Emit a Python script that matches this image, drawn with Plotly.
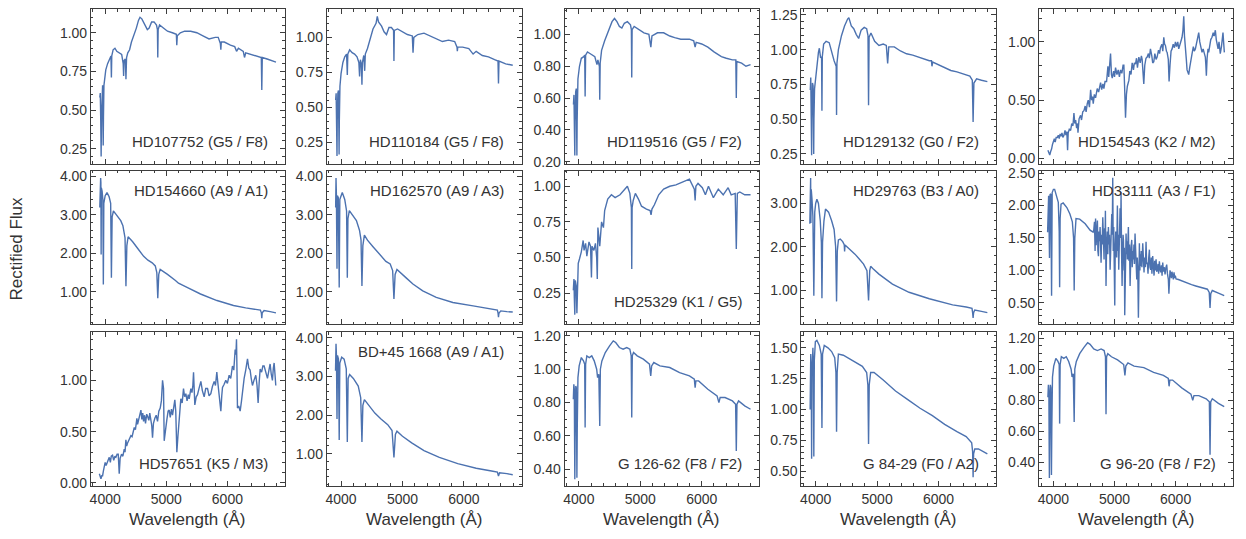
import plotly.graph_objects as go
from plotly.subplots import make_subplots

# ---------------- data ----------------
NAMES = ["HD107752 (G5 / F8)", "HD110184 (G5 / F8)", "HD119516 (G5 / F2)", "HD129132 (G0 / F2)", "HD154543 (K2 / M2)",
         "HD154660 (A9 / A1)", "HD162570 (A9 / A3)", "HD25329 (K1 / G5)", "HD29763 (B3 / A0)", "HD33111 (A3 / F1)",
         "HD57651 (K5 / M3)", "BD+45 1668 (A9 / A1)", "G 126-62 (F8 / F2)", "G 84-29 (F0 / A2)", "G 96-20 (F8 / F2)"]

S1 = [(3912,0.58),(3920,0.61),(3927,0.45),(3934,0.20),(3940,0.45),(3948,0.62),(3958,0.66),(3964,0.40),(3968,0.27),(3972,0.45),
      (3980,0.66),(3995,0.72),(4010,0.76),(4040,0.80),(4070,0.83),(4095,0.85),(4102,0.71),(4108,0.85),(4130,0.89),(4160,0.90),
      (4190,0.88),(4230,0.87),(4270,0.86),(4295,0.80),(4302,0.72),(4310,0.82),(4330,0.83),(4340,0.70),(4350,0.84),(4370,0.87),
      (4400,0.89),(4430,0.94),(4470,0.98),(4510,1.03),(4545,1.08),(4570,1.10),(4600,1.09),(4640,1.06),(4690,1.02),(4720,1.03),
      (4760,1.07),(4800,1.07),(4840,1.05),(4855,1.02),(4861,0.84),(4867,1.02),(4890,1.05),(4950,1.03),(5020,1.01),(5100,1.00),
      (5165,0.99),(5172,0.92),(5180,0.98),(5230,1.00),(5300,1.01),(5400,1.01),(5500,1.00),(5600,0.98),(5700,0.96),(5800,0.97),
      (5850,0.97),(5885,0.93),(5893,0.89),(5900,0.94),(5950,0.94),(6050,0.92),(6120,0.91),(6150,0.88),(6180,0.90),(6260,0.88),
      (6280,0.84),(6300,0.87),(6400,0.86),(6500,0.85),(6555,0.84),(6563,0.63),(6571,0.84),(6650,0.83),(6720,0.82),(6795,0.81)]

S2 = [(3912,0.55),(3920,0.60),(3928,0.35),(3934,0.15),(3938,0.40),(3948,0.60),(3958,0.62),(3964,0.35),(3968,0.16),(3972,0.40),
      (3982,0.65),(4000,0.74),(4030,0.82),(4060,0.86),(4090,0.88),(4102,0.73),(4110,0.88),(4140,0.91),(4180,0.89),(4220,0.88),
      (4260,0.86),(4290,0.82),(4302,0.72),(4315,0.84),(4332,0.80),(4340,0.66),(4348,0.82),(4370,0.87),(4385,0.76),(4395,0.88),
      (4430,0.92),(4480,1.00),(4520,1.06),(4570,1.10),(4590,1.15),(4610,1.11),(4660,1.08),(4700,1.04),(4740,1.02),(4780,1.07),
      (4820,1.07),(4855,1.05),(4861,0.83),(4867,1.05),(4920,1.06),(5000,1.04),(5080,1.02),(5160,1.01),(5172,0.89),(5185,1.00),
      (5250,1.02),(5350,1.03),(5450,1.01),(5550,0.99),(5650,0.97),(5750,0.98),(5850,0.97),(5888,0.93),(5893,0.90),(5900,0.93),
      (5980,0.93),(6080,0.92),(6150,0.88),(6200,0.90),(6300,0.87),(6400,0.86),(6500,0.84),(6555,0.83),(6563,0.67),(6571,0.83),
      (6680,0.81),(6795,0.80)]

S3 = [(3912,0.56),(3920,0.62),(3928,0.40),(3934,0.24),(3938,0.45),(3948,0.64),(3958,0.66),(3964,0.40),(3968,0.24),(3972,0.45),
      (3985,0.72),(4010,0.80),(4040,0.85),(4080,0.86),(4095,0.87),(4102,0.61),(4110,0.87),(4140,0.89),(4180,0.88),(4220,0.87),
      (4260,0.86),(4295,0.81),(4310,0.84),(4334,0.80),(4340,0.59),(4347,0.82),(4370,0.90),(4420,0.96),(4480,1.02),(4540,1.08),
      (4580,1.10),(4620,1.08),(4660,1.05),(4700,1.04),(4740,1.07),(4790,1.08),(4840,1.06),(4855,1.03),(4861,0.73),(4867,1.03),
      (4900,1.05),(4980,1.03),(5060,1.01),(5140,1.00),(5172,0.92),(5190,0.99),(5280,1.01),(5380,1.01),(5480,0.99),(5560,0.98),
      (5660,0.97),(5800,0.97),(5870,0.96),(5893,0.92),(5910,0.95),(6000,0.94),(6100,0.92),(6200,0.89),(6280,0.87),(6320,0.86),
      (6400,0.85),(6500,0.84),(6555,0.84),(6563,0.60),(6571,0.83),(6650,0.82),(6720,0.80),(6795,0.81)]

S4 = [(3912,0.71),(3920,0.80),(3928,0.50),(3934,0.24),(3938,0.50),(3948,0.76),(3958,0.74),(3964,0.45),(3968,0.25),(3972,0.50),
      (3982,0.72),(4000,0.80),(4020,0.88),(4045,0.98),(4060,1.01),(4080,0.94),(4096,0.95),(4102,0.56),(4108,0.95),(4130,1.04),
      (4170,1.06),(4220,1.05),(4260,0.98),(4300,0.92),(4334,0.88),(4340,0.53),(4346,0.90),(4370,1.00),(4420,1.10),(4470,1.17),
      (4520,1.22),(4540,1.23),(4580,1.17),(4620,1.15),(4660,1.11),(4700,1.08),(4740,1.14),(4790,1.16),(4830,1.15),(4852,1.10),
      (4861,0.60),(4870,1.09),(4900,1.12),(4960,1.06),(5030,1.03),(5100,1.04),(5150,1.03),(5172,0.90),(5190,1.02),(5280,1.02),
      (5380,0.99),(5480,0.97),(5580,0.96),(5700,0.94),(5850,0.92),(5885,0.92),(5893,0.88),(5905,0.91),(6000,0.89),(6100,0.87),
      (6200,0.85),(6300,0.84),(6420,0.82),(6510,0.81),(6550,0.78),(6563,0.48),(6576,0.76),(6620,0.79),(6700,0.78),(6795,0.77)]

S5 = [(3910,0.07),(3925,0.04),(3940,0.03),(3955,0.06),(3970,0.08),(3985,0.12),(4000,0.15),(4015,0.17),(4030,0.14),(4045,0.18),
      (4064,0.18),(4080,0.20),(4095,0.17),(4110,0.21),(4125,0.19),(4140,0.22),(4155,0.18),(4173,0.20),(4190,0.24),(4205,0.20),
      (4220,0.23),(4232,0.07),(4242,0.22),(4260,0.25),(4282,0.24),(4300,0.30),(4320,0.28),(4336,0.39),(4350,0.30),(4364,0.33),
      (4380,0.26),(4395,0.30),(4402,0.22),(4420,0.34),(4445,0.37),(4460,0.33),(4480,0.40),(4500,0.41),(4520,0.45),(4535,0.40),
      (4554,0.47),(4570,0.50),(4590,0.44),(4609,0.59),(4625,0.50),(4640,0.53),(4652,0.47),(4670,0.55),(4690,0.52),(4717,0.60),
      (4740,0.57),(4760,0.62),(4772,0.65),(4790,0.59),(4810,0.64),(4826,0.60),(4845,0.66),(4870,0.66),(4880,0.72),(4892,0.79),
      (4905,0.70),(4920,0.80),(4935,0.90),(4950,0.72),(4963,0.69),(4985,0.75),(5000,0.70),(5017,0.78),(5040,0.72),(5060,0.76),
      (5080,0.70),(5099,0.76),(5120,0.73),(5140,0.80),(5153,0.80),(5165,0.62),(5180,0.35),(5195,0.55),(5210,0.62),(5235,0.67),
      (5250,0.75),(5270,0.72),(5289,0.82),(5310,0.76),(5325,0.82),(5343,0.81),(5360,0.86),(5375,0.78),(5398,0.87),(5420,0.82),
      (5440,0.88),(5452,0.85),(5465,0.75),(5479,0.64),(5495,0.80),(5515,0.86),(5534,0.87),(5555,0.90),(5570,0.86),(5588,0.94),
      (5610,0.88),(5625,0.82),(5643,0.83),(5660,0.90),(5680,0.85),(5697,0.87),(5720,0.93),(5737,0.90),(5752,0.95),(5775,0.98),
      (5790,0.92),(5806,1.04),(5820,0.98),(5833,0.97),(5850,0.92),(5861,0.91),(5880,0.85),(5893,0.66),(5908,0.80),(5925,0.92),
      (5942,0.94),(5960,0.98),(5980,0.95),(5997,1.00),(6015,0.96),(6035,1.00),(6051,0.94),(6070,0.98),(6090,1.02),(6105,1.04),
      (6120,1.10),(6133,1.22),(6145,1.05),(6160,0.97),(6175,0.85),(6187,0.76),(6200,0.74),(6214,0.72),(6230,0.78),(6250,0.86),
      (6269,0.90),(6290,0.96),(6305,0.92),(6323,0.94),(6345,1.00),(6365,1.04),(6378,1.08),(6395,1.00),(6410,0.96),(6432,0.91),
      (6450,0.94),(6470,0.90),(6486,0.87),(6495,0.80),(6503,0.71),(6515,0.86),(6530,0.94),(6541,0.91),(6560,0.98),(6575,1.02),
      (6595,1.04),(6615,1.08),(6630,1.05),(6650,1.10),(6665,1.02),(6677,0.97),(6695,0.94),(6710,1.00),(6731,0.90),(6750,0.96),
      (6760,1.05),(6775,1.08),(6785,1.00),(6797,0.91)]

S6 = [(3912,3.19),(3920,3.70),(3926,3.96),(3930,3.85),(3934,1.97),(3938,3.70),(3950,3.62),(3962,3.40),(3970,1.19),(3978,3.30),
      (4000,3.50),(4030,3.58),(4065,3.47),(4090,3.30),(4102,1.36),(4114,2.95),(4135,3.10),(4175,3.02),(4220,2.93),(4255,2.85),
      (4290,2.72),(4325,2.40),(4340,1.14),(4355,2.20),(4375,2.43),(4420,2.36),(4450,2.30),(4530,2.13),(4630,1.92),(4700,1.82),
      (4770,1.75),(4820,1.67),(4845,1.50),(4861,0.83),(4877,1.45),(4900,1.58),(4950,1.53),(5020,1.45),(5150,1.29),(5200,1.22),
      (5340,1.11),(5560,0.94),(5830,0.77),(6100,0.64),(6300,0.58),(6430,0.55),(6540,0.52),(6556,0.45),(6563,0.31),(6570,0.45),
      (6600,0.51),(6700,0.48),(6795,0.45)]

S7 = [(3912,3.19),(3918,3.96),(3924,3.55),(3934,1.60),(3940,3.50),(3955,3.45),(3970,1.11),(3980,3.40),(4020,3.58),(4060,3.40),
      (4090,3.10),(4102,1.36),(4112,2.90),(4135,3.11),(4180,3.00),(4250,2.85),(4300,2.60),(4325,2.35),(4340,1.15),(4355,2.20),
      (4380,2.47),(4430,2.34),(4520,2.17),(4630,1.96),(4730,1.79),(4800,1.72),(4840,1.55),(4861,0.81),(4880,1.45),(4910,1.58),
      (4980,1.47),(5060,1.36),(5170,1.20),(5330,1.02),(5550,0.85),(5820,0.72),(6150,0.63),(6450,0.55),(6545,0.52),(6556,0.44),
      (6563,0.34),(6570,0.44),(6600,0.50),(6700,0.48),(6795,0.47)]

S8 = [(3910,0.27),(3920,0.35),(3926,0.22),(3934,0.10),(3942,0.34),(3958,0.30),(3968,0.11),(3976,0.30),(3990,0.46),(4010,0.49),
      (4040,0.54),(4070,0.62),(4085,0.55),(4110,0.60),(4130,0.51),(4165,0.61),(4190,0.58),(4205,0.36),(4215,0.58),(4245,0.55),
      (4270,0.60),(4290,0.50),(4300,0.35),(4310,0.71),(4340,0.58),(4370,0.75),(4400,0.71),(4420,0.83),(4470,0.91),(4530,0.94),
      (4590,0.92),(4670,0.94),(4750,0.98),(4790,1.00),(4830,0.95),(4855,0.85),(4861,0.42),(4867,0.85),(4885,0.90),(4920,0.95),
      (4970,0.91),(5020,0.86),(5100,0.84),(5160,0.83),(5175,0.80),(5190,0.84),(5230,0.87),(5300,0.94),(5380,0.98),(5480,1.00),
      (5580,1.01),(5700,1.03),(5800,1.05),(5880,0.98),(5893,0.90),(5905,1.00),(5940,1.02),(6010,0.99),(6060,0.94),(6110,1.00),
      (6190,0.92),(6270,0.98),(6350,0.94),(6430,0.99),(6480,0.94),(6545,0.95),(6563,0.56),(6580,0.95),(6620,0.96),(6700,0.94),
      (6795,0.94)]

S9 = [(3905,2.53),(3912,3.00),(3918,3.59),(3922,2.55),(3928,3.33),(3940,3.10),(3955,2.70),(3970,0.87),(3985,2.80),(4000,3.00),
      (4020,3.10),(4045,3.00),(4075,2.60),(4093,2.10),(4102,0.81),(4112,2.10),(4135,2.60),(4160,2.87),(4210,2.80),(4260,2.60),
      (4300,2.40),(4325,2.00),(4340,0.74),(4352,1.90),(4370,2.16),(4400,2.18),(4440,2.12),(4465,2.05),(4471,1.89),(4478,2.04),
      (4550,1.95),(4640,1.83),(4720,1.70),(4780,1.60),(4835,1.45),(4861,0.76),(4880,1.45),(4895,1.55),(4930,1.50),(5030,1.37),
      (5250,1.14),(5520,0.95),(5850,0.80),(6020,0.74),(6230,0.66),(6450,0.61),(6545,0.58),(6555,0.48),(6563,0.36),(6571,0.48),
      (6590,0.54),(6700,0.51),(6795,0.48)]

S10 = [(3905,1.59),(3912,2.07),(3922,2.15),(3936,1.19),(3945,2.17),(3958,2.18),(3970,0.61),(3980,2.20),(4000,2.25),(4020,2.25),
       (4050,2.15),(4080,2.05),(4095,1.60),(4102,0.74),(4110,1.80),(4125,2.02),(4160,2.04),(4220,1.97),(4270,1.87),(4310,1.75),
       (4330,1.50),(4340,0.69),(4350,1.50),(4370,1.80),(4430,1.79),(4520,1.72),(4600,1.62),(4650,1.59),
       (4660,1.62),(4672,1.75),(4682,1.30),(4690,1.80),(4699,1.39),(4708,1.70),(4720,1.77),(4728,1.30),(4737,1.22),(4746,1.60),
       (4755,1.45),(4764,1.67),(4772,1.35),(4780,1.12),(4790,1.55),(4798,1.40),(4808,1.82),(4818,1.30),(4829,1.17),(4838,1.65),
       (4845,1.45),(4851,1.92),(4861,0.76),(4870,1.35),(4882,1.60),(4890,1.25),(4900,1.67),(4910,1.40),(4918,1.55),(4928,1.01),
       (4938,1.50),(4946,1.30),(4955,1.87),(4963,1.55),(4971,2.43),(4979,1.30),(4987,1.67),(4995,1.10),(5004,0.46),(5012,1.35),
       (5020,1.60),(5026,1.42),(5035,1.20),(5042,1.75),(5047,2.00),(5056,1.30),(5062,1.55),(5069,1.01),(5078,1.40),(5085,1.70),
       (5091,1.96),(5100,1.50),(5107,2.21),(5115,1.30),(5124,0.76),(5132,1.25),(5140,1.55),(5146,1.47),(5155,1.00),(5160,1.35),
       (5167,0.31),(5175,1.05),(5182,1.40),(5189,1.57),(5198,1.25),(5205,1.45),(5211,1.17),(5220,1.35),(5227,1.67),(5235,1.15),
       (5245,1.40),(5255,0.76),(5262,1.10),(5270,1.35),(5282,1.47),(5290,1.05),(5300,1.30),(5309,1.17),(5318,1.40),(5326,1.10),
       (5336,1.57),(5345,1.20),(5352,1.30),(5364,0.86),(5372,1.20),(5380,1.05),(5391,0.27),(5398,1.10),(5407,1.42),(5415,1.00),
       (5422,1.25),(5429,1.07),(5438,1.30),(5448,1.05),(5462,1.42),(5470,1.10),(5476,1.25),(5483,0.97),(5492,1.20),(5505,1.05),
       (5516,1.44),(5526,1.10),(5538,1.12),(5548,0.95),(5560,1.20),(5571,1.32),(5580,1.05),(5592,1.01),(5602,1.20),(5612,0.95),
       (5625,1.22),(5636,1.05),(5647,0.92),(5658,1.15),(5668,1.00),(5680,1.17),(5690,0.98),(5701,1.01),(5712,1.10),(5722,0.95),
       (5734,1.14),(5745,1.02),(5756,0.97),(5768,1.08),(5778,0.92),(5789,1.12),(5800,0.98),(5812,1.05),(5827,0.94),(5840,1.04),
       (5854,1.09),(5866,0.95),(5881,0.86),(5890,0.64),(5898,0.80),(5908,1.00),(5919,0.95),(5930,0.88),(5940,0.98),(5952,0.92),
       (5963,0.86),(5974,0.97),(5985,0.88),(5995,0.92),(6007,0.87),(6045,0.86),(6120,0.83),(6181,0.81),(6260,0.78),(6330,0.76),
       (6399,0.74),(6460,0.73),(6520,0.71),(6550,0.66),(6563,0.42),(6575,0.64),(6600,0.69),(6700,0.65),(6795,0.61)]

S11 = [(3905,0.09),(3918,0.06),(3931,0.04),(3945,0.07),(3958,0.07),(3972,0.12),(3985,0.15),(4000,0.20),(4015,0.17),(4029,0.19),
       (4045,0.22),(4067,0.25),(4085,0.20),(4100,0.26),(4121,0.27),(4140,0.22),(4160,0.26),(4176,0.25),(4195,0.28),(4214,0.28),
       (4230,0.09),(4245,0.24),(4268,0.28),(4290,0.26),(4312,0.33),(4325,0.30),(4339,0.42),(4352,0.36),(4367,0.39),(4385,0.41),
       (4400,0.44),(4421,0.46),(4440,0.45),(4460,0.50),(4476,0.54),(4495,0.52),(4519,0.63),(4530,0.57),(4541,0.60),(4560,0.64),
       (4585,0.71),(4600,0.62),(4615,0.68),(4628,0.60),(4645,0.66),(4660,0.58),(4680,0.67),(4694,0.65),(4715,0.61),(4730,0.68),
       (4748,0.60),(4762,0.56),(4775,0.44),(4790,0.58),(4813,0.63),(4835,0.66),(4857,0.60),(4878,0.70),(4901,0.73),(4920,0.80),
       (4939,1.00),(4955,0.92),(4966,0.41),(4980,0.50),(4993,0.54),(5010,0.62),(5030,0.70),(5048,0.71),(5065,0.64),(5085,0.72),
       (5102,0.66),(5120,0.74),(5140,0.81),(5155,0.70),(5173,0.30),(5190,0.45),(5211,0.60),(5225,0.72),(5238,0.82),(5260,0.78),
       (5282,0.92),(5300,0.84),(5320,0.87),(5340,0.80),(5360,0.86),(5375,0.82),(5402,0.92),(5420,0.88),(5435,0.95),(5446,1.08),
       (5458,0.90),(5467,0.76),(5490,0.84),(5511,0.86),(5535,0.92),(5566,0.99),(5590,0.90),(5620,0.84),(5645,0.92),(5675,0.92),
       (5700,0.85),(5729,0.87),(5755,0.94),(5784,0.99),(5805,0.95),(5827,1.08),(5845,0.97),(5865,0.84),(5880,0.78),(5893,0.70),
       (5908,0.85),(5920,0.93),(5945,0.96),(5974,1.00),(6000,0.97),(6029,1.05),(6055,1.02),(6083,1.14),(6105,1.10),(6127,1.30),
       (6140,1.25),(6149,1.40),(6158,1.05),(6165,0.73),(6185,0.75),(6209,0.70),(6231,0.80),(6250,0.92),(6274,1.02),(6300,1.10),
       (6329,1.21),(6350,1.12),(6372,1.10),(6390,1.02),(6410,0.95),(6435,1.00),(6465,1.05),(6485,0.95),(6503,0.78),(6520,0.98),
       (6536,1.11),(6560,1.08),(6580,1.14),(6601,1.14),(6630,1.08),(6656,1.02),(6680,1.10),(6699,1.16),(6718,1.06),(6737,1.00),
       (6752,1.12),(6765,1.17),(6780,1.05),(6792,0.95)]

S12 = [(3910,3.15),(3918,3.85),(3925,3.55),(3934,1.90),(3942,3.55),(3958,3.45),(3970,1.35),(3980,3.35),(4010,3.50),(4050,3.45),
       (4085,3.20),(4102,1.30),(4115,2.95),(4140,3.05),(4200,2.95),(4280,2.75),(4320,2.45),(4340,1.30),(4355,2.25),(4380,2.40),
       (4450,2.25),(4550,2.05),(4650,1.90),(4760,1.75),(4830,1.60),(4861,0.90),(4885,1.50),(4910,1.58),(5000,1.45),(5150,1.28),
       (5350,1.08),(5600,0.90),(5900,0.74),(6200,0.62),(6450,0.55),(6545,0.52),(6563,0.42),(6580,0.50),(6700,0.48),(6795,0.45)]

S13 = [(3910,0.82),(3918,0.91),(3926,0.88),(3930,0.60),(3934,0.34),(3940,0.62),(3950,0.90),(3958,0.89),(3964,0.60),(3968,0.35),
       (3974,0.65),(3985,0.95),(4005,1.02),(4040,1.07),(4075,1.05),(4095,1.03),(4102,0.65),(4110,1.03),(4130,1.08),(4170,1.07),
       (4210,1.08),(4250,1.05),(4290,1.00),(4305,0.95),(4325,0.97),(4340,0.66),(4350,1.00),(4375,1.05),(4430,1.10),(4500,1.14),
       (4560,1.17),(4600,1.16),(4660,1.13),(4720,1.12),(4780,1.13),(4830,1.12),(4852,1.08),(4861,0.71),(4870,1.08),(4890,1.10),
       (4950,1.08),(5050,1.06),(5150,1.03),(5170,0.96),(5185,1.02),(5220,1.04),(5320,1.02),(5480,1.01),(5640,0.98),(5800,0.96),
       (5880,0.94),(5893,0.89),(5905,0.93),(5950,0.93),(6100,0.88),(6250,0.84),(6280,0.80),(6300,0.83),(6380,0.83),(6500,0.81),
       (6552,0.79),(6563,0.51),(6574,0.79),(6600,0.81),(6700,0.78),(6795,0.76)]

S14 = [(3910,1.00),(3915,1.30),(3920,1.45),(3928,1.30),(3934,0.60),(3940,1.30),(3955,1.50),(3962,1.35),(3970,0.62),(3978,1.40),
       (3995,1.55),(4020,1.56),(4060,1.52),(4090,1.45),(4102,0.85),(4112,1.45),(4140,1.52),(4200,1.50),(4260,1.47),(4310,1.42),
       (4330,1.30),(4340,0.82),(4350,1.30),(4370,1.45),(4450,1.44),(4550,1.41),(4650,1.38),(4760,1.35),(4830,1.30),(4850,1.20),
       (4861,0.72),(4872,1.20),(4895,1.30),(4950,1.30),(5100,1.24),(5300,1.15),(5500,1.08),(5700,1.01),(5900,0.95),(6100,0.88),
       (6300,0.82),(6450,0.78),(6540,0.73),(6555,0.66),(6563,0.45),(6571,0.64),(6590,0.68),(6650,0.68),(6795,0.64)]

S15 = [(3910,0.82),(3918,0.90),(3926,0.86),(3930,0.55),(3934,0.30),(3940,0.60),(3950,0.90),(3958,0.88),(3964,0.55),(3968,0.32),
       (3974,0.62),(3985,0.95),(4005,1.02),(4040,1.07),(4075,1.05),(4095,1.03),(4102,0.65),(4110,1.03),(4130,1.08),(4170,1.07),
       (4210,1.08),(4250,1.05),(4290,1.00),(4305,0.95),(4325,0.97),(4340,0.66),(4350,1.00),(4375,1.05),(4430,1.10),(4500,1.14),
       (4560,1.17),(4600,1.16),(4660,1.13),(4720,1.12),(4780,1.13),(4830,1.12),(4852,1.08),(4861,0.71),(4870,1.08),(4890,1.10),
       (4950,1.08),(5050,1.06),(5150,1.03),(5170,0.96),(5185,1.02),(5220,1.04),(5320,1.02),(5480,1.01),(5640,0.98),(5800,0.96),
       (5880,0.94),(5893,0.89),(5905,0.93),(5950,0.93),(6100,0.88),(6250,0.84),(6280,0.80),(6300,0.83),(6380,0.83),(6500,0.81),
       (6552,0.79),(6563,0.45),(6574,0.79),(6600,0.81),(6700,0.78),(6795,0.76)]

SPECTRA = [S1, S2, S3, S4, S5, S6, S7, S8, S9, S10, S11, S12, S13, S14, S15]

# axis settings per panel
Y_RANGES = [(0.153, 1.151), (0.095, 1.20), (0.188, 1.157), (0.18, 1.289), (-0.045, 1.279),
            (0.15, 4.153), (0.15, 4.153), (0.032, 1.11), (0.21, 3.76), (0.168, 2.54),
            (-0.03, 1.47), (0.16, 4.15), (0.30, 1.222), (0.38, 1.627), (0.249, 1.238)]
Y_DTICK = [0.25, 0.25, 0.2, 0.25, 0.5, 1, 1, 0.25, 1, 0.5, 0.5, 1, 0.2, 0.25, 0.2]
LABEL_TOP = [False]*5 + [True, True, False, True, True] + [False, True, False, False, False]
X_RANGE = (3767, 6939)
X_TICKS = [4000, 5000, 6000]

# ---------------- figure ----------------
W, H = 1246, 539
COLS = [(90, 284), (326, 521), (564, 759), (801, 996), (1039, 1233)]
ROWS = [(4.5, 162), (169, 326), (334, 491)]
LINE = "#4c72b0"
FRAME = "#3d3d3d"
TXT = "#333333"
FONT = "Liberation Sans, Arial, sans-serif"

fig = make_subplots(rows=3, cols=5)

annotations = []
for i, spec in enumerate(SPECTRA):
    r, c = divmod(i, 5)
    wl = [p[0] for p in spec]
    fl = [p[1] for p in spec]
    fig.add_trace(go.Scatter(x=wl, y=fl, mode="lines", line=dict(color=LINE, width=1.4),
                             showlegend=False, hoverinfo="skip"), row=r + 1, col=c + 1)
    n = "" if i == 0 else str(i + 1)
    x0, x1 = COLS[c]
    y0, y1 = ROWS[r]
    dt = Y_DTICK[i]
    minor_dt = dt / 5 if dt in (0.25, 0.5, 1) else dt / 4
    common = dict(showline=True, linecolor=FRAME, linewidth=1, mirror="allticks", ticks="inside",
                  ticklen=5, tickwidth=1, tickcolor=FRAME, showgrid=False, zeroline=False,
                  tickfont=dict(family=FONT, size=14, color=TXT))
    fig.layout["xaxis" + n].update(domain=[x0 / W, x1 / W], range=list(X_RANGE), tickmode="array",
                                   tickvals=X_TICKS, showticklabels=(r == 2),
                                   minor=dict(dtick=200, tick0=0, ticks="inside", ticklen=2.5,
                                              tickcolor=FRAME, tickwidth=1, showgrid=False),
                                   **common)
    fig.layout["yaxis" + n].update(domain=[1 - y1 / H, 1 - y0 / H], range=list(Y_RANGES[i]),
                                   dtick=dt, tick0=0, tickformat=".2f",
                                   minor=dict(dtick=minor_dt, tick0=0, ticks="inside", ticklen=2.5,
                                              tickcolor=FRAME, tickwidth=1, showgrid=False),
                                   **common)
    annotations.append(dict(text=NAMES[i], xref="x" + n + " domain", yref="y" + n + " domain",
                            x=0.922, y=(0.873 if LABEL_TOP[i] else 0.147), xanchor="right",
                            yanchor="middle", showarrow=False,
                            font=dict(family=FONT, size=15, color=TXT)))
    if r == 2:
        annotations.append(dict(text="Wavelength (Å)", xref="paper", yref="paper",
                                x=(x0 + x1) / 2 / W, y=1 - 525.5 / H, xanchor="center", yanchor="middle",
                                showarrow=False, font=dict(family=FONT, size=17, color=TXT)))

annotations.append(dict(text="Rectified Flux", xref="paper", yref="paper", x=15.5 / W, y=1 - 249 / H,
                        xanchor="center", yanchor="middle", textangle=-90, showarrow=False,
                        font=dict(family=FONT, size=17, color=TXT)))

fig.update_layout(width=W, height=H, margin=dict(l=0, r=0, t=0, b=0),
                  plot_bgcolor="white", paper_bgcolor="white", annotations=annotations,
                  font=dict(family=FONT, color=TXT))

fig.write_html("out.html", config={"displayModeBar": False},
               post_script="document.body.style.margin='0';")
